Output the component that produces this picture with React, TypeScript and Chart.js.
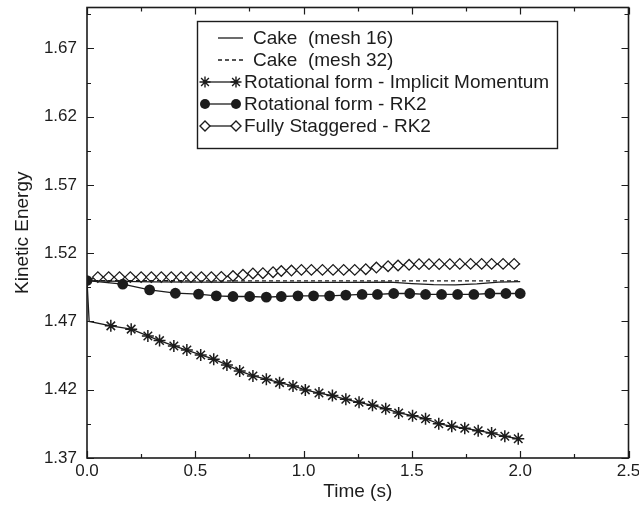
import React, { useEffect, useRef } from 'react';
import { Chart, registerables } from 'chart.js';

Chart.register(...registerables);

// ---------- tick values ----------
const xTickValues = [0, 0.5, 1.0, 1.5, 2.0, 2.5];
const xMinorTicks = [0.25, 0.75, 1.25, 1.75, 2.25];
const yTickValues = [1.37, 1.42, 1.47, 1.52, 1.57, 1.62, 1.67];
const yMinorTicks = [1.395, 1.445, 1.495, 1.545, 1.595, 1.645, 1.695];

// ---------- series labels ----------
const seriesLabels = [
  'Cake  (mesh 16)',
  'Cake  (mesh 32)',
  'Rotational form - Implicit Momentum',
  'Rotational form - RK2',
  'Fully Staggered - RK2',
];

// ---------- data ----------
const cake16Time = [0, 0.1, 0.3, 0.5, 0.8, 1.0, 1.2, 1.4, 1.5, 1.6, 1.7, 1.8, 1.9, 2.0];
const cake16KE = [1.5, 1.4995, 1.499, 1.4988, 1.4987, 1.4987, 1.4987, 1.4988, 1.4978, 1.497, 1.4968, 1.4975, 1.4988, 1.4992];

const cake32Time = [0, 0.5, 1.0, 1.5, 2.0];
const cake32KE = [1.5, 1.4998, 1.4997, 1.4997, 1.4998];

const implicitTime = [
  0, 0.01, 0.11, 0.204, 0.281, 0.335, 0.401, 0.461, 0.525, 0.585, 0.646, 0.705, 0.766, 0.828,
  0.889, 0.951, 1.008, 1.071, 1.133, 1.195, 1.256, 1.318, 1.379, 1.439, 1.503, 1.563, 1.624,
  1.684, 1.744, 1.806, 1.868, 1.929, 1.991,
];
const implicitKE = [
  1.5, 1.47, 1.4668, 1.4644, 1.4594, 1.456, 1.4521, 1.4491, 1.4455, 1.4424, 1.4382, 1.4338,
  1.4301, 1.4277, 1.4252, 1.4228, 1.4199, 1.4176, 1.4157, 1.413, 1.4108, 1.4086, 1.4061, 1.403,
  1.401, 1.3988, 1.3951, 1.3932, 1.3918, 1.39, 1.3883, 1.3859, 1.3841,
];
const implicitUnmarkedLead = 2;

const rk2Time = [
  0, 0.165, 0.289, 0.408, 0.515, 0.597, 0.674, 0.751, 0.828, 0.897, 0.974, 1.046, 1.12, 1.195,
  1.27, 1.341, 1.416, 1.49, 1.563, 1.637, 1.711, 1.786, 1.86, 1.934, 2.0,
];
const rk2KE = [
  1.5, 1.4973, 1.4932, 1.4907, 1.49, 1.4888, 1.4883, 1.4883, 1.4878, 1.4883, 1.4888, 1.4888,
  1.4888, 1.4893, 1.4898, 1.4898, 1.4905, 1.4905, 1.4898, 1.4898, 1.4898, 1.4898, 1.4905,
  1.4905, 1.4905,
];

const staggeredTime = [
  0, 0.05, 0.1, 0.15, 0.2, 0.25, 0.297, 0.343, 0.389, 0.435, 0.48, 0.528, 0.574, 0.62, 0.674,
  0.72, 0.766, 0.812, 0.859, 0.897, 0.944, 0.99, 1.036, 1.087, 1.136, 1.185, 1.236, 1.287, 1.336,
  1.39, 1.436, 1.487, 1.533, 1.579, 1.626, 1.675, 1.721, 1.771, 1.822, 1.868, 1.921, 1.972, 2.0,
];
const staggeredKE = [
  1.5, 1.5025, 1.5025, 1.5025, 1.5025, 1.5025, 1.5025, 1.5025, 1.5025, 1.5025, 1.5025, 1.5025,
  1.5025, 1.5027, 1.5033, 1.5042, 1.5052, 1.5054, 1.5061, 1.507, 1.5073, 1.5078, 1.5078, 1.5078,
  1.5078, 1.5078, 1.5078, 1.5083, 1.5095, 1.5105, 1.511, 1.5115, 1.512, 1.512, 1.512, 1.512,
  1.5122, 1.5122, 1.5122, 1.5122, 1.5122, 1.5122, 1.5122,
];

const INK = '#1c1c1c';
const FONT = '"Liberation Sans", Arial, Helvetica, sans-serif';

const toPoints = (xs: number[], ys: number[]) => xs.map((x, i) => ({ x, y: ys[i] }));

function drawMarker(ctx: CanvasRenderingContext2D, kind: string, x: number, y: number, r: number) {
  ctx.save();
  ctx.strokeStyle = INK;
  ctx.fillStyle = INK;
  ctx.lineWidth = 1.4;
  ctx.beginPath();
  if (kind === 'star') {
    for (let k = 0; k < 4; k++) {
      const a = (k * Math.PI) / 4;
      ctx.moveTo(x - r * Math.cos(a), y - r * Math.sin(a));
      ctx.lineTo(x + r * Math.cos(a), y + r * Math.sin(a));
    }
    ctx.stroke();
  } else if (kind === 'circle') {
    ctx.arc(x, y, r, 0, Math.PI * 2);
    ctx.fill();
  } else if (kind === 'diamond') {
    ctx.moveTo(x, y - r);
    ctx.lineTo(x + r, y);
    ctx.lineTo(x, y + r);
    ctx.lineTo(x - r, y);
    ctx.closePath();
    ctx.fillStyle = '#fff';
    ctx.fill();
    ctx.stroke();
  }
  ctx.restore();
}

const frameAndTicks = {
  id: 'frameAndTicks',
  afterDraw(chart: any) {
    const { ctx, chartArea: a, scales } = chart;
    const xs = scales.x;
    const ys = scales.y;
    ctx.save();
    ctx.strokeStyle = INK;
    ctx.lineWidth = 1.2;
    const major = 7;
    const minor = 4;
    ctx.beginPath();
    const xt = (v: number, len: number) => {
      const px = Math.round(xs.getPixelForValue(v)) + 0.5;
      ctx.moveTo(px, a.bottom);
      ctx.lineTo(px, a.bottom - len);
      ctx.moveTo(px, a.top);
      ctx.lineTo(px, a.top + len);
    };
    const yt = (v: number, len: number) => {
      const py = Math.round(ys.getPixelForValue(v)) + 0.5;
      ctx.moveTo(a.left, py);
      ctx.lineTo(a.left + len, py);
      ctx.moveTo(a.right, py);
      ctx.lineTo(a.right - len, py);
    };
    xTickValues.forEach((v) => xt(v, major));
    xMinorTicks.forEach((v) => xt(v, minor));
    yTickValues.forEach((v) => yt(v, major));
    yMinorTicks.forEach((v) => yt(v, minor));
    ctx.stroke();
    ctx.lineWidth = 1.6;
    ctx.strokeRect(a.left, a.top, a.right - a.left, a.bottom - a.top);
    ctx.restore();
  },
};

const boxLegend = {
  id: 'boxLegend',
  afterDraw(chart: any) {
    const ctx: CanvasRenderingContext2D = chart.ctx;
    const box = { left: 197, top: 21, right: 557, bottom: 148 };
    ctx.save();
    ctx.fillStyle = '#fff';
    ctx.fillRect(box.left, box.top, box.right - box.left, box.bottom - box.top);
    ctx.strokeStyle = INK;
    ctx.lineWidth = 1.4;
    ctx.strokeRect(box.left + 0.5, box.top + 0.5, box.right - box.left, box.bottom - box.top);
    ctx.font = `19px ${FONT}`;
    ctx.textBaseline = 'middle';
    chart.data.datasets.forEach((ds: any, i: number) => {
      const y = 38 + i * 22;
      ctx.strokeStyle = INK;
      ctx.lineWidth = 1.3;
      if (ds.legendMarker) {
        ctx.setLineDash([]);
        ctx.beginPath();
        ctx.moveTo(205, y);
        ctx.lineTo(236, y);
        ctx.stroke();
        const r = ds.legendMarker === 'circle' ? 5 : ds.legendMarker === 'star' ? 5.5 : 5;
        drawMarker(ctx, ds.legendMarker, 205, y, r);
        drawMarker(ctx, ds.legendMarker, 236, y, r);
        ctx.fillStyle = INK;
        ctx.fillText(ds.label, 244, y + 1);
      } else {
        ctx.setLineDash(ds.borderDash || []);
        ctx.beginPath();
        ctx.moveTo(218, y);
        ctx.lineTo(243, y);
        ctx.stroke();
        ctx.setLineDash([]);
        ctx.fillStyle = INK;
        ctx.fillText(ds.label, 253, y + 1);
      }
    });
    ctx.restore();
  },
};

export default function App() {
  const canvasRef = useRef<HTMLCanvasElement | null>(null);

  useEffect(() => {
    document.body.style.margin = '0';
    const canvas = canvasRef.current;
    if (!canvas) return;

    const lineBase = {
      borderColor: INK,
      borderWidth: 1.3,
      fill: false,
      tension: 0,
      pointHoverRadius: 0,
    };

    const chart = new Chart(canvas, {
      type: 'line',
      data: {
        datasets: [
          {
            ...lineBase,
            label: seriesLabels[0],
            data: toPoints(cake16Time, cake16KE),
            pointRadius: 0,
          },
          {
            ...lineBase,
            label: seriesLabels[1],
            data: toPoints(cake32Time, cake32KE),
            borderDash: [4, 3],
            pointRadius: 0,
          },
          {
            ...lineBase,
            label: seriesLabels[2],
            data: toPoints(implicitTime, implicitKE),
            pointStyle: 'star',
            pointRadius: (c: any) => (c.dataIndex < implicitUnmarkedLead ? 0 : 6),
            pointBorderWidth: 1.5,
            pointBorderColor: INK,
            pointBackgroundColor: INK,
            legendMarker: 'star',
          } as any,
          {
            ...lineBase,
            label: seriesLabels[3],
            data: toPoints(rk2Time, rk2KE),
            pointStyle: 'circle',
            pointRadius: 5.4,
            pointBorderWidth: 0,
            pointBackgroundColor: INK,
            legendMarker: 'circle',
          } as any,
          {
            ...lineBase,
            label: seriesLabels[4],
            data: toPoints(staggeredTime, staggeredKE),
            pointStyle: 'rectRot',
            pointRadius: (c: any) =>
              c.dataIndex === 0 || c.dataIndex === staggeredTime.length - 1 ? 0 : 5.3,
            pointBorderWidth: 1.3,
            pointBorderColor: INK,
            pointBackgroundColor: '#fff',
            legendMarker: 'diamond',
          } as any,
        ],
      },
      options: {
        responsive: false,
        animation: false,
        devicePixelRatio: 1,
        layout: { padding: { top: 7, right: 10.5, left: 0, bottom: 0 } },
        plugins: {
          legend: { display: false },
          tooltip: { enabled: false },
        },
        scales: {
          x: {
            type: 'linear',
            min: 0,
            max: 2.5,
            grid: { display: false, drawTicks: false },
            border: { display: false },
            afterBuildTicks: (s: any) => {
              s.ticks = xTickValues.map((value) => ({ value }));
            },
            afterFit: (s: any) => {
              s.height = 51;
              s.paddingLeft = 0;
              s.paddingRight = 0;
            },
            ticks: {
              autoSkip: false,
              maxRotation: 0,
              padding: 3,
              color: INK,
              font: { family: FONT, size: 17 },
              callback: (v: any) => Number(v).toFixed(1),
            },
            title: {
              display: true,
              text: 'Time (s)',
              color: INK,
              font: { family: FONT, size: 19 },
              padding: { top: 0, bottom: 6 },
            },
          },
          y: {
            type: 'linear',
            min: 1.37,
            max: 1.7,
            grid: { display: false, drawTicks: false },
            border: { display: false },
            afterBuildTicks: (s: any) => {
              s.ticks = yTickValues.map((value) => ({ value }));
            },
            afterFit: (s: any) => {
              s.width = 87;
              s.paddingTop = 0;
              s.paddingBottom = 0;
            },
            ticks: {
              autoSkip: false,
              padding: 10,
              color: INK,
              font: { family: FONT, size: 17 },
              callback: (v: any) => Number(v).toFixed(2),
            },
            title: {
              display: true,
              text: 'Kinetic Energy',
              color: INK,
              font: { family: FONT, size: 19 },
              padding: { top: 11, bottom: 0 },
            },
          },
        },
      },
      plugins: [frameAndTicks, boxLegend],
    });

    return () => chart.destroy();
  }, []);

  return (
    <div style={{ width: 639, height: 509 }}>
      <canvas ref={canvasRef} width={639} height={509} />
    </div>
  );
}
